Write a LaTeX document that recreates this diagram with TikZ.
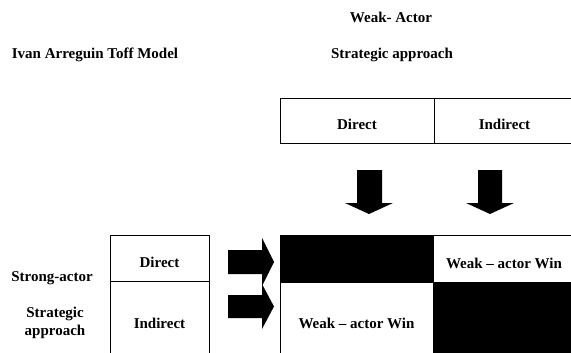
\documentclass[tikz,border=0pt]{standalone}
\usepackage{fontspec}
\setmainfont{Liberation Serif}
\usepackage{tikz}
\usetikzlibrary{positioning}
\tikzset{
  cellbox/.style  ={draw,line width=0.8pt,inner sep=0pt,align=center,
                     text height=19pt,text depth=0pt,
                     font=\fontsize{15}{18}\selectfont\bfseries},
  winbox/.style   ={cellbox,fill=white},
  lossbox/.style  ={cellbox,fill=black},
  headtxt/.style  ={align=center,inner sep=0pt,
                     font=\fontsize{15}{18}\selectfont\bfseries},
  blockarrow/.style={fill=black},
}
\begin{document}
\begin{tikzpicture}[x=1pt,y=-1pt]
\useasboundingbox (0,0) rectangle (571,353);
% Titles
\node[headtxt] (title) at (95,55)  {Ivan Arreguin Toff Model};
\node[headtxt] (wa)    at (391,17) {Weak- Actor};
\node[headtxt] (wsa)   at (392,55) {Strategic approach};
\node[headtxt] (sa)    at (52,278) {Strong-actor};
\node[headtxt] (ssa)   at (55,323) {Strategic\\approach};
% Weak-actor header cells
\node[cellbox,minimum width=154pt,minimum height=45pt] (wdir) at (357,120.5)   {Direct};
\node[cellbox,minimum width=141pt,minimum height=45pt] (wind) at (504.5,120.5) {Indirect};
% Strong-actor cells
\node[cellbox,minimum width=99pt,minimum height=46pt] (sdir) at (159.5,258)   {Direct};
\node[cellbox,minimum width=99pt,minimum height=75pt] (sind) at (159.5,318.5) {Indirect};
% Outcome grid
\node[lossbox,minimum width=153pt,minimum height=47pt] (o11) at (356.5,258.5) {};
\node[winbox, minimum width=142pt,minimum height=47pt] (o12) at (504,258.5)   {Weak -- actor Win};
\node[winbox, minimum width=153pt,minimum height=74pt] (o21) at (356.5,319)   {Weak -- actor Win};
\node[lossbox,minimum width=142pt,minimum height=74pt] (o22) at (504,319)     {};
% Down arrows
\fill[blockarrow] (357,170) -- (382,170) -- (382,203) -- (393,203) -- (369,214) -- (345,203) -- (357,203) -- cycle;
\fill[blockarrow] (478,170) -- (502,170) -- (502,203) -- (514,203) -- (490,214) -- (466,203) -- (478,203) -- cycle;
% Right arrows
\fill[blockarrow] (228,250) -- (262,250) -- (262,238) -- (274,262) -- (262,286) -- (262,274) -- (228,274) -- cycle;
\fill[blockarrow] (228,295) -- (262,295) -- (262,284) -- (274,306.5) -- (262,329) -- (262,318) -- (228,318) -- cycle;
\end{tikzpicture}
\end{document}
